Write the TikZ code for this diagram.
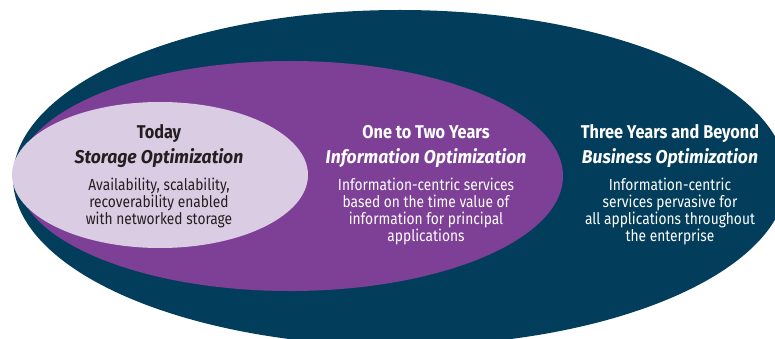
\documentclass[tikz,border=0pt]{standalone}
\usepackage{fontspec}
\setmainfont{Fira Sans}[FakeStretch=0.86]
\definecolor{navy}{HTML}{023E5B}
\definecolor{purp}{HTML}{7E3F96}
\definecolor{lav}{HTML}{DACCE3}
\definecolor{ink}{HTML}{231F20}
\begin{document}
\begin{tikzpicture}[x=1pt,y=-1pt,
  ttl/.style={anchor=base,inner sep=0pt,font=\fontsize{18.5}{20}\selectfont\bfseries\addfontfeatures{FakeStretch=0.88}},
  sub/.style={anchor=base,inner sep=0pt,font=\fontsize{18.5}{20}\selectfont\bfseries\itshape\addfontfeatures{FakeStretch=0.95}},
  body/.style={anchor=base,inner sep=0pt,align=center,font=\fontsize{16}{17}\selectfont}]
\useasboundingbox (0,0) rectangle (775,339);
\clip (0,0) rectangle (775,339);
\fill[navy] (400,178) ellipse [x radius=387pt, y radius=168pt];
\fill[purp] (290,176) ellipse [x radius=273pt, y radius=115pt];
\fill[lav] (160,175) ellipse [x radius=148pt, y radius=73pt];
% Today
\node[ttl,text=ink] (t1) at (159,139) {Today};
\node[sub,text=ink] (s1) at (159,164) {Storage Optimization};
\node[body,text=ink] (b1) at (159,224) {Availability, scalability,\\recoverability enabled\\with networked storage};
% One to two years
\node[ttl,text=white] (t2) at (426,139) {One to Two Years};
\node[sub,text=white] (s2) at (426,164) {Information Optimization};
\node[body,text=white] (b2) at (426,241) {Information-centric services\\based on the time value of\\information for principal\\applications};
% Three years
\node[ttl,text=white] (t3) at (670,139) {Three Years and Beyond};
\node[sub,text=white] (s3) at (670,164) {Business Optimization};
\node[body,text=white] (b3) at (670,241) {Information-centric\\services pervasive for\\all applications throughout\\the enterprise};
\end{tikzpicture}
\end{document}
